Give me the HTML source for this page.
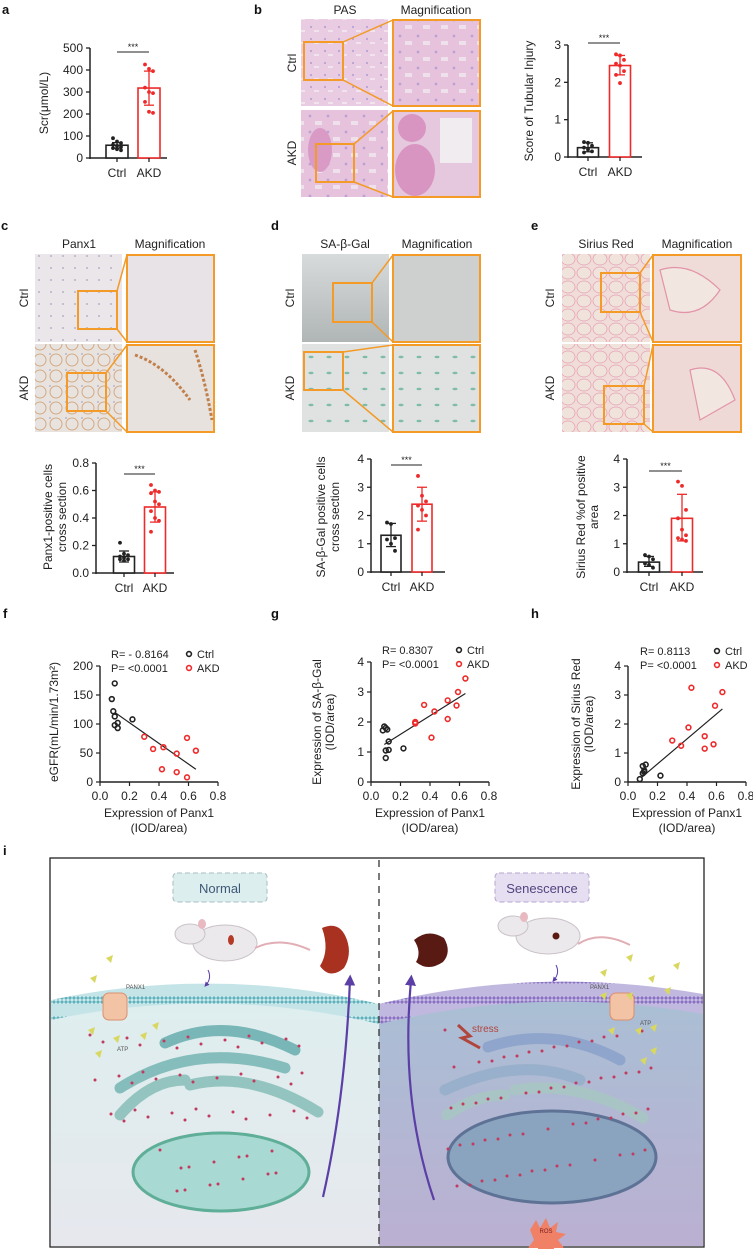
<!DOCTYPE html>
<html><head><meta charset="utf-8"><style>
body{margin:0;background:#fff;}
svg{display:block;font-family:"Liberation Sans",Arial,sans-serif;}
.t{font-size:12px;fill:#222;}
.lt{font-size:13px;font-weight:bold;fill:#111;}
</style></head><body>
<svg id="fig" width="753" height="1249" viewBox="0 0 753 1249" xmlns="http://www.w3.org/2000/svg">
<defs>
<pattern id="pasTex" width="14" height="12" patternUnits="userSpaceOnUse"><rect width="14" height="12" fill="#e9cce2"/><circle cx="3" cy="3" r="1.1" fill="#b9a3d2"/><rect x="6" y="6" width="5" height="2" fill="#f1e4ee"/></pattern>
<pattern id="pasTex2" width="18" height="16" patternUnits="userSpaceOnUse"><rect width="18" height="16" fill="#e6c2dc"/><circle cx="4" cy="4" r="1.4" fill="#bba2d2"/><rect x="9" y="9" width="7" height="4" fill="#efe1ec"/></pattern>
<pattern id="ihcC" width="12" height="12" patternUnits="userSpaceOnUse"><rect width="12" height="12" fill="#ebe6e9"/><circle cx="3" cy="4" r="1" fill="#b6b3cb"/></pattern>
<pattern id="ihcA" width="16" height="16" patternUnits="userSpaceOnUse"><rect width="16" height="16" fill="#e9e3e0"/><circle cx="8" cy="8" r="6" fill="none" stroke="#d3aa86" stroke-width="1"/><circle cx="2" cy="2" r="0.9" fill="#aaa6c2"/></pattern>
<pattern id="galA" width="18" height="16" patternUnits="userSpaceOnUse"><rect width="18" height="16" fill="#dfe2e0"/><ellipse cx="5" cy="5" rx="2.5" ry="1.2" fill="#7dbcaa"/></pattern>
<pattern id="sirius" width="16" height="14" patternUnits="userSpaceOnUse"><rect width="16" height="14" fill="#f0dcd8"/><ellipse cx="8" cy="7" rx="7" ry="6" fill="#f0e3dc" stroke="#e6a2b4" stroke-width="0.8"/></pattern>
<linearGradient id="galC" x1="0" y1="0" x2="0" y2="1"><stop offset="0" stop-color="#d8dbdb"/><stop offset="1" stop-color="#b0b5b5"/></linearGradient>
<linearGradient id="bgL" x1="0" y1="0" x2="0" y2="1"><stop offset="0" stop-color="#deeeee"/><stop offset="1" stop-color="#e6e8ee"/></linearGradient>
<linearGradient id="bgR" x1="0" y1="0" x2="0" y2="1"><stop offset="0" stop-color="#a9bfd4"/><stop offset="1" stop-color="#bbb0d2"/></linearGradient>
<pattern id="memL" width="4" height="20" patternUnits="userSpaceOnUse"><rect width="4" height="20" fill="#d7eef0"/><circle cx="2" cy="2" r="1.6" fill="#5fb2bb"/><circle cx="2" cy="18" r="1.6" fill="#5fb2bb"/><path d="M1 4 V16 M3 4 V16" stroke="#8fc9cf" stroke-width="0.5"/></pattern>
<pattern id="memR" width="4" height="20" patternUnits="userSpaceOnUse"><rect width="4" height="20" fill="#c9c4e3"/><circle cx="2" cy="2" r="1.6" fill="#8a6fc4"/><circle cx="2" cy="18" r="1.6" fill="#8a6fc4"/><path d="M1 4 V16 M3 4 V16" stroke="#a797d4" stroke-width="0.5"/></pattern>
<marker id="arr" viewBox="0 0 10 10" refX="5" refY="5" markerWidth="5" markerHeight="5" orient="auto"><path d="M0 0 L10 5 L0 10 z" fill="#5b3fa6"/></marker>
</defs>

<text class="lt" x="2" y="14">a</text>
<text class="lt" x="254" y="14">b</text>
<text class="lt" x="1" y="230">c</text>
<text class="lt" x="271" y="230">d</text>
<text class="lt" x="531" y="230">e</text>
<text class="lt" x="3" y="618">f</text>
<text class="lt" x="271" y="618">g</text>
<text class="lt" x="531" y="618">h</text>
<text class="lt" x="3" y="855">i</text>

<g>
<text class="t" x="345" y="14" text-anchor="middle">PAS</text>
<text class="t" x="436" y="14" text-anchor="middle">Magnification</text>
<text class="t" transform="translate(296,63) rotate(-90)" text-anchor="middle">Ctrl</text>
<text class="t" transform="translate(296,153) rotate(-90)" text-anchor="middle">AKD</text>
<rect x="301" y="19" width="87" height="87" fill="url(#pasTex)"/>
<rect x="301" y="110" width="87" height="87" fill="url(#pasTex2)"/>
<ellipse cx="320" cy="150" rx="12" ry="22" fill="#d99ac6"/>
<rect x="393" y="20" width="87" height="86" fill="url(#pasTex2)" stroke="#f39a27" stroke-width="2"/>
<rect x="393" y="111" width="87" height="86" fill="#e6c8de" stroke="#f39a27" stroke-width="2"/>
<ellipse cx="415" cy="170" rx="20" ry="26" fill="#d995c2"/><ellipse cx="412" cy="128" rx="14" ry="14" fill="#d995c2"/><rect x="440" y="118" width="32" height="45" fill="#f1ecef"/>
<rect x="304" y="42" width="39" height="38" fill="none" stroke="#f39a27" stroke-width="2"/>
<path d="M343 42 L393 20 M343 80 L393 106" stroke="#f39a27" stroke-width="1.5"/>
<rect x="316" y="144" width="38" height="38" fill="none" stroke="#f39a27" stroke-width="2"/>
<path d="M354 144 L393 111 M354 182 L393 197" stroke="#f39a27" stroke-width="1.5"/>
</g>

<g>
<text class="t" x="79" y="248" text-anchor="middle">Panx1</text>
<text class="t" x="170" y="248" text-anchor="middle">Magnification</text>
<text class="t" transform="translate(28,298) rotate(-90)" text-anchor="middle">Ctrl</text>
<text class="t" transform="translate(28,388) rotate(-90)" text-anchor="middle">AKD</text>
<rect x="35" y="254" width="87" height="88" fill="url(#ihcC)"/>
<rect x="35" y="344" width="87" height="88" fill="url(#ihcA)"/>
<rect x="127" y="255" width="87" height="87" fill="#e7e3e6" stroke="#f39a27" stroke-width="2"/>
<rect x="127" y="345" width="87" height="87" fill="#e8e2df" stroke="#f39a27" stroke-width="2"/>
<path d="M135 355 Q165 365 190 400 M195 350 Q205 380 212 420" stroke="#c0804c" stroke-width="3" fill="none" stroke-dasharray="3 2"/>
<rect x="78" y="291" width="39" height="38" fill="none" stroke="#f39a27" stroke-width="2"/>
<path d="M117 291 L127 255 M117 329 L127 342" stroke="#f39a27" stroke-width="1.5"/>
<rect x="67" y="373" width="39" height="38" fill="none" stroke="#f39a27" stroke-width="2"/>
<path d="M106 373 L127 345 M106 411 L127 432" stroke="#f39a27" stroke-width="1.5"/>
</g>

<g>
<text class="t" x="345" y="248" text-anchor="middle">SA-β-Gal</text>
<text class="t" x="437" y="248" text-anchor="middle">Magnification</text>
<text class="t" transform="translate(294,298) rotate(-90)" text-anchor="middle">Ctrl</text>
<text class="t" transform="translate(294,388) rotate(-90)" text-anchor="middle">AKD</text>
<rect x="302" y="254" width="87" height="88" fill="url(#galC)"/>
<rect x="302" y="344" width="87" height="88" fill="url(#galA)"/>
<rect x="393" y="255" width="87" height="87" fill="#cdd0cf" stroke="#f39a27" stroke-width="2"/>
<rect x="393" y="345" width="87" height="87" fill="url(#galA)" stroke="#f39a27" stroke-width="2"/>
<rect x="333" y="283" width="39" height="39" fill="none" stroke="#f39a27" stroke-width="2"/>
<path d="M372 283 L393 255 M372 322 L393 342" stroke="#f39a27" stroke-width="1.5"/>
<rect x="304" y="352" width="39" height="38" fill="none" stroke="#f39a27" stroke-width="2"/>
<path d="M343 352 L393 345 M343 390 L393 432" stroke="#f39a27" stroke-width="1.5"/>
</g>

<g>
<text class="t" x="606" y="248" text-anchor="middle">Sirius Red</text>
<text class="t" x="697" y="248" text-anchor="middle">Magnification</text>
<text class="t" transform="translate(554,298) rotate(-90)" text-anchor="middle">Ctrl</text>
<text class="t" transform="translate(554,388) rotate(-90)" text-anchor="middle">AKD</text>
<rect x="562" y="254" width="88" height="88" fill="url(#sirius)"/>
<rect x="562" y="344" width="88" height="88" fill="url(#sirius)"/>
<rect x="653" y="255" width="88" height="87" fill="#efdcd8" stroke="#f39a27" stroke-width="2"/>
<rect x="653" y="345" width="88" height="87" fill="#efd9d6" stroke="#f39a27" stroke-width="2"/>
<path d="M660 270 Q690 260 720 290 Q700 320 670 310 Z M690 370 Q720 360 735 400 L700 420 Z" fill="#f1e6e0" stroke="#e293a8" stroke-width="1.2"/>
<rect x="601" y="273" width="39" height="39" fill="none" stroke="#f39a27" stroke-width="2"/>
<path d="M640 273 L653 255 M640 312 L653 342" stroke="#f39a27" stroke-width="1.5"/>
<rect x="604" y="386" width="40" height="38" fill="none" stroke="#f39a27" stroke-width="2"/>
<path d="M644 386 L653 345 M644 424 L653 432" stroke="#f39a27" stroke-width="1.5"/>
</g>

<g id="charts"></g>

<g>
<rect x="50" y="858" width="654" height="389" fill="#fff" stroke="#222" stroke-width="1.3"/>
<path d="M51 1010 Q215 975 379 1014 L379 1246 L51 1246 Z" fill="url(#bgL)"/>
<path d="M379 1014 Q540 975 703 1004 L703 1246 L379 1246 Z" fill="url(#bgR)"/>
<path d="M51 1000 Q215 965 379 1004 L379 1024 Q215 985 51 1020 Z" fill="url(#memL)"/>
<path d="M379 1004 Q540 965 703 994 L703 1014 Q540 985 379 1024 Z" fill="url(#memR)"/>
<line x1="379" y1="860" x2="379" y2="1246" stroke="#333" stroke-width="1.3" stroke-dasharray="7 6"/>
<rect x="173" y="873" width="94" height="29" rx="4" fill="#dcefee" stroke="#a7bcc0" stroke-dasharray="5 3"/>
<text x="220" y="893" text-anchor="middle" font-size="13" fill="#3f5878">Normal</text>
<rect x="495" y="873" width="94" height="29" rx="4" fill="#e6dff2" stroke="#b4a6cf" stroke-dasharray="5 3"/>
<text x="542" y="893" text-anchor="middle" font-size="13" fill="#54447f">Senescence</text>
<g><ellipse cx="225" cy="943" rx="32" ry="18" fill="#ece9ec" stroke="#c9c2c8"/><ellipse cx="190" cy="934" rx="15" ry="10" fill="#ece9ec" stroke="#c9c2c8"/><ellipse cx="202" cy="924" rx="4" ry="5" fill="#e8b9c0"/><path d="M255 948 Q280 936 310 950" stroke="#e1aeb5" stroke-width="2" fill="none"/><ellipse cx="231" cy="940" rx="3" ry="5" fill="#b53a26"/></g>
<g><ellipse cx="548" cy="936" rx="32" ry="18" fill="#ece9ec" stroke="#c9c2c8"/><ellipse cx="513" cy="926" rx="15" ry="10" fill="#ece9ec" stroke="#c9c2c8"/><ellipse cx="524" cy="917" rx="4" ry="5" fill="#e8b9c0"/><path d="M578 944 Q600 930 630 945" stroke="#e1aeb5" stroke-width="2" fill="none"/><circle cx="556" cy="936" r="3.5" fill="#5a1a12"/></g>
<path d="M322 928 Q340 920 347 940 Q352 955 344 968 Q330 980 320 966 Q330 950 322 928 Z" fill="#a8321f"/>
<path d="M414 940 Q428 928 444 938 Q452 952 443 962 Q428 972 416 962 Q422 952 414 940 Z" fill="#5a1a14"/>
<path d="M323 1197 Q345 1100 350 980" stroke="#5b3fa6" stroke-width="2.2" fill="none" marker-end="url(#arr)"/>
<path d="M434 1200 Q400 1100 411 980" stroke="#5b3fa6" stroke-width="2.2" fill="none" marker-end="url(#arr)"/>
<path d="M208 970 Q212 978 206 985" stroke="#5b3fa6" stroke-width="1" fill="none" marker-end="url(#arr)"/>
<path d="M556 965 Q560 973 554 980" stroke="#5b3fa6" stroke-width="1" fill="none" marker-end="url(#arr)"/>
<rect x="103" y="993" width="24" height="27" rx="6" fill="#f2c3a5" stroke="#d98f6e"/>
<text x="126" y="989" font-size="6" fill="#555">PANX1</text>
<rect x="610" y="993" width="24" height="27" rx="6" fill="#f2c3a5" stroke="#d98f6e"/>
<text x="590" y="989" font-size="6" fill="#555">PANX1</text>
<text x="117" y="1051" font-size="6" fill="#555">ATP</text>
<text x="640" y="1025" font-size="6" fill="#555">ATP</text>
<text x="472" y="1032" font-size="10" fill="#b0453e">stress</text>
<path d="M458 1025 L470 1036 L462 1038 L480 1048" stroke="#b0453e" stroke-width="3" fill="none"/>
<g fill="none" stroke-linecap="round">
<path d="M165 1043 Q225 1015 295 1050" stroke="#79b6b8" stroke-width="11"/>
<path d="M120 1088 Q195 1040 285 1068" stroke="#84bdbc" stroke-width="11"/>
<path d="M120 1115 Q150 1080 185 1080 M190 1085 Q250 1070 318 1112" stroke="#93c4bf" stroke-width="11"/>
</g>
<g fill="none" stroke-linecap="round">
<path d="M488 1047 Q555 1025 620 1060" stroke="#8fa5cc" stroke-width="11"/>
<path d="M445 1090 Q520 1055 580 1080" stroke="#98b0cb" stroke-width="11"/>
<path d="M447 1115 Q475 1095 505 1095 M515 1090 Q580 1080 643 1118" stroke="#a9c4c5" stroke-width="11"/>
</g>
<ellipse cx="221" cy="1172" rx="88" ry="39" fill="#a9d9d3" stroke="#5fae98" stroke-width="3"/>
<ellipse cx="552" cy="1157" rx="104" ry="46" fill="#8aa4c0" stroke="#5d7295" stroke-width="3"/>
<path d="M530 1230 l6 -10 l4 8 l6 -10 l4 10 l8 -6 l-2 10 l10 2 l-8 6 l6 8 l-10 0 l-2 10 l-6 -8 l-6 8 l-2 -10 l-10 0 l6 -8 z" fill="#f08066"/>
<text x="546" y="1233" font-size="6" fill="#7a1e1e" text-anchor="middle">ROS</text>
<g id="dots"></g>
</g>
</svg>
<script>
const categories = ['Ctrl', 'AKD'];
const aMeans = [58, 318];
const aSDlo = [45, 240];
const aSDhi = [70, 395];
const aCtrlDots = [90, 75, 68, 60, 55, 50, 45, 40, 35];
const aAkdDots = [425, 405, 395, 320, 300, 295, 255, 210, 205];
const aTicks = [0, 100, 200, 300, 400, 500];
const bMeans = [0.25, 2.45];
const bSDlo = [0.14, 2.2];
const bSDhi = [0.38, 2.72];
const bCtrlDots = [0.4, 0.38, 0.3, 0.25, 0.2, 0.15, 0.12];
const bAkdDots = [2.75, 2.72, 2.6, 2.5, 2.45, 2.3, 2.2, 1.98];
const bTicks = [0, 1, 2, 3];
const cMeans = [0.12, 0.48];
const cSDlo = [0.08, 0.37];
const cSDhi = [0.16, 0.59];
const cCtrlDots = [0.22, 0.14, 0.13, 0.12, 0.11, 0.10, 0.10, 0.09];
const cAkdDots = [0.64, 0.60, 0.59, 0.58, 0.52, 0.50, 0.45, 0.40, 0.38, 0.30];
const cTicks = [0, 0.2, 0.4, 0.6, 0.8];
const cTickLabels = ['0.0', '0.2', '0.4', '0.6', '0.8'];
const dMeans = [1.3, 2.4];
const dSDlo = [0.9, 1.8];
const dSDhi = [1.72, 3.0];
const dCtrlDots = [1.75, 1.7, 1.2, 1.15, 1.0, 0.75];
const dAkdDots = [3.4, 2.7, 2.5, 2.35, 2.2, 2.0, 1.5];
const eMeans = [0.35, 1.9];
const eSDlo = [0.2, 1.1];
const eSDhi = [0.55, 2.75];
const eCtrlDots = [0.6, 0.55, 0.45, 0.3, 0.25, 0.15];
const eAkdDots = [3.2, 3.05, 2.2, 1.9, 1.5, 1.3, 1.2, 1.15, 1.1];
const deTicks = [0, 1, 2, 3, 4];
const xTicks = [0, 0.2, 0.4, 0.6, 0.8];
const xTickLabels = ['0.0', '0.2', '0.4', '0.6', '0.8'];
const fCtrlX = [0.10, 0.08, 0.09, 0.10, 0.10, 0.12, 0.12, 0.22];
const fCtrlY = [170, 143, 122, 113, 98, 102, 93, 108];
const fAkdX = [0.30, 0.36, 0.43, 0.52, 0.59, 0.65, 0.42, 0.52, 0.59];
const fAkdY = [78, 57, 60, 49, 76, 54, 22, 17, 8];
const fFitX = [0.10, 0.65];
const fFitY = [120, 22];
const fTicks = [0, 50, 100, 150, 200];
const gCtrlX = [0.08, 0.09, 0.10, 0.11, 0.12, 0.10, 0.12, 0.10, 0.22];
const gCtrlY = [1.72, 1.85, 1.80, 1.75, 1.35, 1.05, 1.07, 0.80, 1.12];
const gAkdX = [0.30, 0.30, 0.36, 0.43, 0.41, 0.52, 0.52, 0.58, 0.59, 0.64];
const gAkdY = [1.95, 2.00, 2.57, 2.35, 1.48, 2.72, 2.10, 2.55, 3.00, 3.45];
const gFitX = [0.09, 0.64];
const gFitY = [1.25, 2.95];
const hCtrlX = [0.08, 0.10, 0.10, 0.11, 0.12, 0.11, 0.22];
const hCtrlY = [0.10, 0.30, 0.55, 0.40, 0.60, 0.35, 0.22];
const hAkdX = [0.30, 0.36, 0.41, 0.43, 0.52, 0.52, 0.58, 0.59, 0.64];
const hAkdY = [1.43, 1.25, 1.88, 3.25, 1.58, 1.15, 1.30, 2.63, 3.10];
const hFitX = [0.09, 0.64];
const hFitY = [0.15, 2.52];
const ghTicks = [0, 1, 2, 3, 4];

const NS = 'http://www.w3.org/2000/svg';
const root = document.getElementById('charts');
function mk(tag, attrs, parent) {
  const e = document.createElementNS(NS, tag);
  for (const k in attrs) e.setAttribute(k, attrs[k]);
  (parent || root).appendChild(e);
  return e;
}
function txt(s, x, y, parent, extra) {
  const e = mk('text', Object.assign({x: x, y: y, 'font-size': 12, fill: '#222'}, extra || {}), parent);
  e.textContent = s;
  return e;
}

function barChart(id, L, means, lo, hi, dotsC, dotsA, ticks, tickLabels, ylabels) {
  const g = mk('g', {});
  
  
  const ys = v => L.y0 - (v / L.vmax) * (L.y0 - L.ytop);
  mk('line', {x1: L.ax, y1: L.ytop, x2: L.ax, y2: L.y0 + 1, stroke: '#222', 'stroke-width': 1.5}, g);
  mk('line', {x1: L.ax, y1: L.y0, x2: L.xEnd, y2: L.y0, stroke: '#222', 'stroke-width': 1.5}, g);
  ticks.forEach((t, i) => {
    const y = ys(t);
    mk('line', {x1: L.ax - 4, y1: y, x2: L.ax, y2: y, stroke: '#222', 'stroke-width': 1.3}, g);
    const tl = txt(tickLabels[i], L.ax - 7, y + 4, g, {'text-anchor': 'end'});
    
    
  });
  ylabels.forEach((s, i) => {
    const yl = txt(s, 0, 0, g, {'text-anchor': 'middle', transform: 'translate(' + (L.ax - L.ylOff[i]) + ',' + L.ylY + ') rotate(-90)'});
    
    
  });
  const cols = ['#222', '#ee2a2a'];
  const dots = [dotsC, dotsA];
  categories.forEach((c, i) => {
    const cx = L.cx[i];
    const bar = mk('rect', {x: cx - L.bw / 2, y: ys(means[i]), width: L.bw, height: L.y0 - ys(means[i]), fill: '#fff', stroke: cols[i], 'stroke-width': 1.6}, g);
    
    
    mk('line', {x1: cx, y1: ys(hi[i]), x2: cx, y2: ys(lo[i]), stroke: cols[i], 'stroke-width': 1.3}, g);
    mk('line', {x1: cx - 5, y1: ys(hi[i]), x2: cx + 5, y2: ys(hi[i]), stroke: cols[i], 'stroke-width': 1.3}, g);
    mk('line', {x1: cx - 5, y1: ys(lo[i]), x2: cx + 5, y2: ys(lo[i]), stroke: cols[i], 'stroke-width': 1.3}, g);
    dots[i].forEach((v, j) => {
      const d = mk('circle', {cx: cx + ((j % 3) - 1) * 4, cy: ys(v), r: 1.9, fill: cols[i]}, g);
      
      
    });
    mk('line', {x1: cx, y1: L.y0, x2: cx, y2: L.y0 + 4, stroke: '#222', 'stroke-width': 1.3}, g);
    const xl = txt(c, cx, L.y0 + 19, g, {'text-anchor': 'middle'});
    
    
  });
  const sy = L.sigY;
  mk('line', {x1: L.cx[0], y1: sy, x2: L.cx[1], y2: sy, stroke: '#222', 'stroke-width': 1}, g);
  const st = txt('***', (L.cx[0] + L.cx[1]) / 2, sy - 2, g, {'text-anchor': 'middle', 'font-size': 9});
  
  
}

barChart('a', {ax: 90, y0: 158, ytop: 48, vmax: 500, xEnd: 167, cx: [117, 149], bw: 22, ylOff: [42], ylY: 103, sigY: 52},
  aMeans, aSDlo, aSDhi, aCtrlDots, aAkdDots, aTicks, aTicks.map(String), ['Scr(μmol/L)']);
barChart('b', {ax: 568, y0: 157, ytop: 45, vmax: 3, xEnd: 642, cx: [588, 620], bw: 21, ylOff: [35], ylY: 101, sigY: 43},
  bMeans, bSDlo, bSDhi, bCtrlDots, bAkdDots, bTicks, bTicks.map(String), ['Score of Tubular Injury']);
barChart('c', {ax: 96, y0: 573, ytop: 463, vmax: 0.8, xEnd: 174, cx: [124, 155], bw: 21, ylOff: [44, 30], ylY: 517, sigY: 474},
  cMeans, cSDlo, cSDhi, cCtrlDots, cAkdDots, cTicks, cTickLabels, ['Panx1-positive cells', 'cross section']);
barChart('d', {ax: 371, y0: 572, ytop: 459, vmax: 4, xEnd: 445, cx: [391, 422], bw: 20, ylOff: [46, 32], ylY: 517, sigY: 465},
  dMeans, dSDlo, dSDhi, dCtrlDots, dAkdDots, deTicks, deTicks.map(String), ['SA-β-Gal positive cells', 'cross section']);
barChart('e', {ax: 627, y0: 572, ytop: 459, vmax: 4, xEnd: 703, cx: [649, 682], bw: 21, ylOff: [42, 29], ylY: 517, sigY: 471},
  eMeans, eSDlo, eSDhi, eCtrlDots, eAkdDots, deTicks, deTicks.map(String), ['Sirius Red %of positive', 'area']);

function scatter(id, L, cx, cy, axx, ay, fx, fy, yTicks, ylabels, rText, pText) {
  const g = mk('g', {});
  
  
  const xs = v => L.ax + (v / 0.8) * (L.xEnd - L.ax);
  const ys = v => L.y0 - (v / L.vmax) * (L.y0 - L.ytop);
  mk('line', {x1: L.ax, y1: L.ytop, x2: L.ax, y2: L.y0, stroke: '#222', 'stroke-width': 1.4}, g);
  mk('line', {x1: L.ax, y1: L.y0, x2: L.xEnd, y2: L.y0, stroke: '#222', 'stroke-width': 1.4}, g);
  yTicks.forEach(t => {
    mk('line', {x1: L.ax - 4, y1: ys(t), x2: L.ax, y2: ys(t), stroke: '#222', 'stroke-width': 1.2}, g);
    const tl = txt(String(t), L.ax - 7, ys(t) + 4, g, {'text-anchor': 'end'});
    
    
  });
  xTicks.forEach((t, i) => {
    mk('line', {x1: xs(t), y1: L.y0, x2: xs(t), y2: L.y0 + 4, stroke: '#222', 'stroke-width': 1.2}, g);
    const tl = txt(xTickLabels[i], xs(t), L.y0 + 18, g, {'text-anchor': 'middle'});
    
    
  });
  const mid = (L.ax + L.xEnd) / 2;
  const x1 = txt('Expression of Panx1', mid, L.y0 + 35, g, {'text-anchor': 'middle'});
  
  
  txt('(IOD/area)', mid, L.y0 + 50, g, {'text-anchor': 'middle'});
  ylabels.forEach((s, i) => {
    const yl = txt(s, 0, 0, g, {'text-anchor': 'middle', transform: 'translate(' + (L.ax - L.ylOff[i]) + ',' + L.ylY + ') rotate(-90)'});
    
    
  });
  mk('line', {x1: xs(fx[0]), y1: ys(fy[0]), x2: xs(fx[1]), y2: ys(fy[1]), stroke: '#222', 'stroke-width': 1.2}, g);
  cx.forEach((v, i) => {
    const p = mk('circle', {cx: xs(v), cy: ys(cy[i]), r: 2.4, fill: 'none', stroke: '#222', 'stroke-width': 1.6}, g);
    
    
  });
  axx.forEach((v, i) => {
    const p = mk('circle', {cx: xs(v), cy: ys(ay[i]), r: 2.4, fill: 'none', stroke: '#ee2a2a', 'stroke-width': 1.6}, g);
    
    
  });
  const r = txt(rText, L.rx, L.ry, g, {'font-size': 11});
  
  
  const pp = txt(pText, L.rx, L.ry + 14, g, {'font-size': 11});
  
  
  const lc = mk('circle', {cx: L.lx, cy: L.ry - 4, r: 2.4, fill: 'none', stroke: '#222', 'stroke-width': 1.6}, g);
  
  
  txt('Ctrl', L.lx + 8, L.ry, g, {'font-size': 11});
  const la = mk('circle', {cx: L.lx, cy: L.ry + 10, r: 2.4, fill: 'none', stroke: '#ee2a2a', 'stroke-width': 1.6}, g);
  
  
  txt('AKD', L.lx + 8, L.ry + 14, g, {'font-size': 11});
}
scatter('f', {ax: 100, xEnd: 218, y0: 782, ytop: 666, vmax: 200, ylOff: [42], ylY: 722, rx: 111, ry: 658, lx: 189},
  fCtrlX, fCtrlY, fAkdX, fAkdY, fFitX, fFitY, fTicks, ['eGFR(mL/min/1.73m²)'], 'R= - 0.8164', 'P= <0.0001');
scatter('g', {ax: 371, xEnd: 489, y0: 782, ytop: 662, vmax: 4, ylOff: [50, 37], ylY: 722, rx: 382, ry: 654, lx: 459},
  gCtrlX, gCtrlY, gAkdX, gAkdY, gFitX, gFitY, ghTicks, ['Expression of SA-β-Gal', '(IOD/area)'], 'R= 0.8307', 'P= <0.0001');
scatter('h', {ax: 628, xEnd: 746, y0: 782, ytop: 666, vmax: 4, ylOff: [48, 35], ylY: 724, rx: 640, ry: 655, lx: 717},
  hCtrlX, hCtrlY, hAkdX, hAkdY, hFitX, hFitY, ghTicks, ['Expression of Sirius Red', '(IOD/area)'], 'R= 0.8113', 'P= <0.0001');

const dg = document.getElementById('dots');
function dot(x, y) { mk('circle', {cx: x, cy: y, r: 1.5, fill: '#c23a5e'}, dg); }
for (let i = 0; i < 40; i++) { dot(90 + (i * 53) % 220, 1035 + (i * 37) % 110); }
for (let i = 0; i < 14; i++) { dot(160 + (i * 29) % 120, 1150 + (i * 17) % 45); }
for (let i = 0; i < 60; i++) { dot(445 + (i * 47) % 210, 1030 + (i * 31) % 160); }
function tri(x, y) { mk('path', {d: 'M' + x + ' ' + y + ' l7 -3 l-2 8 z', fill: '#d8d760'}, dg); }
[[106,958],[90,978],[88,1030],[113,1038],[95,1053],[152,1025],[140,1035]].forEach(p => tri(p[0], p[1]));
[[600,972],[626,957],[673,965],[600,995],[626,995],[648,978],[664,990],[608,1030],[635,1030],[650,1027],[650,1050],[640,1060]].forEach(p => tri(p[0], p[1]));
</script>
</body></html>
